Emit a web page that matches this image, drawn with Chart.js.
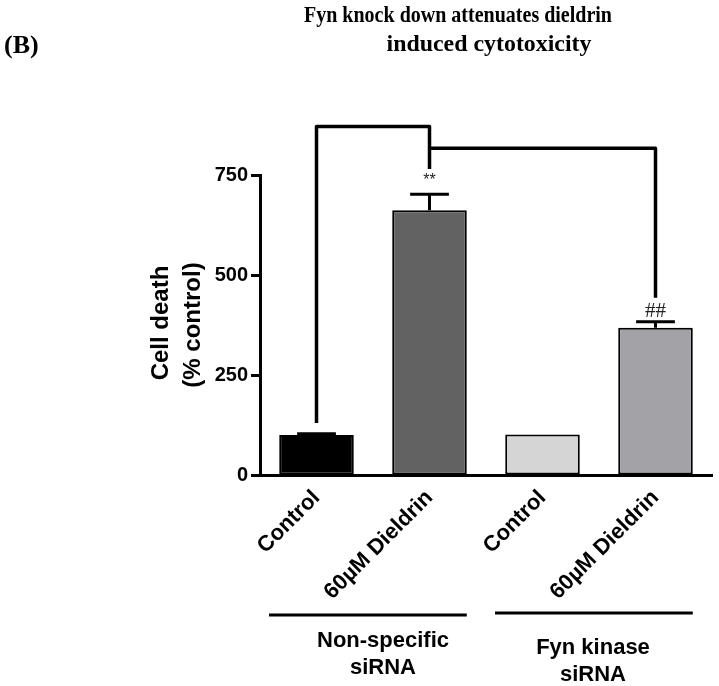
<!DOCTYPE html>
<html>
<head>
<meta charset="utf-8">
<script src="https://cdn.jsdelivr.net/npm/chart.js@4/dist/chart.umd.min.js"></script>
<style>
  html, body { margin: 0; padding: 0; background: #ffffff; }
  #wrap { position: relative; width: 719px; height: 686px; }
</style>
</head>
<body>
<div id="wrap"><canvas id="c"></canvas></div>
<script>
// ---- data ----
const categories = ['Control', '60\u00B5M Dieldrin', 'Control', '60\u00B5M Dieldrin'];
const cellDeath = [100, 662, 101, 368];
const sem = [3, 40, 0, 15];
const barColors = ['#000000', '#626262', '#d5d5d5', '#a3a3a7'];
const yTicks = [0, 250, 500, 750];
const groups = [
  { label: ['Non-specific', 'siRNA'], from: 0, to: 1 },
  { label: ['Fyn kinase', 'siRNA'], from: 2, to: 3 }
];
const significance = [
  { text: '**', index: 1, value: 737 },
  { text: '##', index: 3, value: 408 }
];
// bracket paths: [categoryIndex, value] points
const brackets = [
  [[0, 130], [0, 871], [1, 871], [1, 765]],
  [[1, 817], [3, 817], [3, 443]]
];
const titleLines = ['Fyn knock down attenuates dieldrin', 'induced cytotoxicity'];
const panelLabel = '(B)';
const yTitle = ['Cell death', '(% control)'];

const SANS = '"Liberation Sans", Arial, sans-serif';
const SERIF = '"Liberation Serif", "Times New Roman", serif';

function fitText(ctx, text, cx, cy, width) {
  const w = ctx.measureText(text).width;
  ctx.save();
  ctx.translate(cx, cy);
  ctx.scale(width / w, 1);
  ctx.fillText(text, 0, 0);
  ctx.restore();
}

const overlay = {
  id: 'overlay',
  afterDatasetsDraw(chart) {
    const ctx = chart.ctx;
    const x = chart.scales.x, y = chart.scales.y;
    const meta = chart.getDatasetMeta(0);
    ctx.save();
    // error bars
    ctx.strokeStyle = '#000';
    ctx.lineWidth = 3;
    meta.data.forEach((bar, i) => {
      if (!sem[i]) return;
      const top = y.getPixelForValue(cellDeath[i] + sem[i]);
      const base = y.getPixelForValue(cellDeath[i]);
      const half = bar.width * 0.26;
      ctx.beginPath();
      ctx.moveTo(bar.x, base);
      ctx.lineTo(bar.x, top);
      ctx.moveTo(bar.x - half, top);
      ctx.lineTo(bar.x + half, top);
      ctx.stroke();
    });
    // brackets
    ctx.lineWidth = 3.5;
    ctx.lineJoin = 'round';
    brackets.forEach(path => {
      ctx.beginPath();
      path.forEach(([ci, v], k) => {
        const px = x.getPixelForValue(ci), py = y.getPixelForValue(v);
        if (k === 0) ctx.moveTo(px, py); else ctx.lineTo(px, py);
      });
      ctx.stroke();
    });
    // significance marks
    ctx.fillStyle = '#222';
    ctx.textAlign = 'center';
    ctx.textBaseline = 'middle';
    significance.forEach(s => {
      ctx.font = s.text === '**' ? '16px ' + SANS : '21px ' + SERIF;
      ctx.fillText(s.text, x.getPixelForValue(s.index), y.getPixelForValue(s.value));
    });
    ctx.fillStyle = '#000';
    // group lines + labels
    const catW = (x.right - x.left) / categories.length;
    groups.forEach((g, gi) => {
      const x0 = x.getPixelForValue(g.from) - catW * 0.42;
      const x1 = x.getPixelForValue(g.to) + catW * 0.33;
      const ly = gi === 0 ? 615 : 613;
      ctx.lineWidth = 3;
      ctx.beginPath();
      ctx.moveTo(x0, ly); ctx.lineTo(x1, ly); ctx.stroke();
      ctx.font = 'bold 22px ' + SANS;
      const cx = gi === 0 ? 383 : 593;
      const y0 = gi === 0 ? 641 : 648;
      g.label.forEach((t, k) => ctx.fillText(t, cx, y0 + k * 27));
    });
    // y title
    ctx.font = 'bold 24px ' + SANS;
    ctx.save();
    ctx.translate(161, 323);
    ctx.rotate(-Math.PI / 2);
    ctx.fillText(yTitle[0], 0, 0);
    ctx.restore();
    ctx.save();
    ctx.translate(193, 325);
    ctx.rotate(-Math.PI / 2);
    ctx.fillText(yTitle[1], 0, 0);
    ctx.restore();
    // title
    ctx.font = 'bold 23px ' + SERIF;
    fitText(ctx, titleLines[0], 458, 16, 308);
    fitText(ctx, titleLines[1], 489, 45, 205);
    ctx.textAlign = 'left';
    ctx.font = 'bold 26px ' + SERIF;
    ctx.fillText(panelLabel, 4, 46);
    ctx.restore();
  }
};

new Chart(document.getElementById('c'), {
  type: 'bar',
  data: {
    labels: categories,
    datasets: [{
      data: cellDeath,
      backgroundColor: barColors,
      borderColor: '#000000',
      borderWidth: 2,
      borderSkipped: false,
      categoryPercentage: 1.0,
      barPercentage: 0.66
    }]
  },
  options: {
    responsive: true,
    maintainAspectRatio: false,
    animation: false,
    devicePixelRatio: 1,
    layout: { padding: { left: 0, right: 7, top: 175, bottom: 0 } },
    plugins: { legend: { display: false }, tooltip: { enabled: false }, title: { display: false } },
    scales: {
      x: {
        offset: true,
        grid: { display: false },
        border: { display: true, color: '#000', width: 3 },
        ticks: {
          color: '#000',
          font: { family: SANS, size: 22, weight: 'bold' },
          minRotation: 45, maxRotation: 45,
          padding: 2,
          autoSkip: false
        },
        afterFit(scale) { scale.height = 211; }
      },
      y: {
        min: 0, max: 750,
        afterBuildTicks(scale) { scale.ticks = yTicks.map(v => ({ value: v })); },
        grid: { drawOnChartArea: false, drawTicks: true, tickLength: 9, tickWidth: 3, tickColor: '#000' },
        border: { display: true, color: '#000', width: 3 },
        ticks: {
          color: '#000',
          font: { family: SANS, size: 20, weight: 'bold' },
          padding: 3
        },
        afterFit(scale) { scale.width = 260; }
      }
    }
  },
  plugins: [overlay]
});
</script>
</body>
</html>
